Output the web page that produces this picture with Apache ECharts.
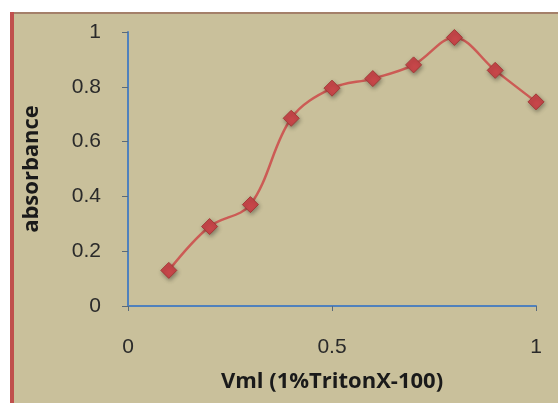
<!DOCTYPE html>
<html>
<head>
<meta charset="utf-8">
<script src="https://cdn.jsdelivr.net/npm/echarts@6/dist/echarts.min.js"></script>
<style>
html,body{margin:0;padding:0;background:#fff;}
#c{width:558px;height:403px;}
</style>
</head>
<body>
<div id="c"></div>
<script>
var xValues = [0.1, 0.2, 0.3, 0.4, 0.5, 0.6, 0.7, 0.8, 0.9, 1.0];
var absorbance = [0.13, 0.29, 0.37, 0.685, 0.795, 0.83, 0.88, 0.98, 0.86, 0.745];
var xTitle = 'Vml (1%TritonX-100)';
var yTitle = 'absorbance';

var chart = echarts.init(document.getElementById('c'));
chart.setOption({
  backgroundColor: '#ffffff',
  animation: false,
  graphic: [
    {type: 'rect', left: 10, top: 12, z: -10, shape: {width: 548, height: 391}, style: {fill: '#c9c09b'}},
    {type: 'rect', left: 10, top: 12, z: -9, shape: {width: 548, height: 2}, style: {fill: '#a4806a'}},
    {type: 'rect', left: 10, top: 12, z: -9, shape: {width: 4, height: 391}, style: {fill: '#c0504d'}}
  ],
  grid: {left: 128, right: 22, top: 32, bottom: 97},
  xAxis: {
    type: 'value', min: 0, max: 1, interval: 0.5,
    name: xTitle, nameLocation: 'middle', nameGap: 65,
    nameTextStyle: {fontFamily: 'Open Sans', fontWeight: 'bold', fontSize: 22, color: '#1a1a1a'},
    axisLine: {lineStyle: {color: '#4f81bd', width: 2}},
    axisTick: {show: true, inside: false, length: 5, lineStyle: {color: '#5a6a7a'}},
    axisLabel: {fontFamily: 'Liberation Sans', fontSize: 21, color: '#2a2a2a', margin: 31},
    splitLine: {show: false}
  },
  yAxis: {
    type: 'value', min: 0, max: 1, interval: 0.2,
    name: yTitle, nameLocation: 'middle', nameGap: 85, nameRotate: 90,
    nameTextStyle: {fontFamily: 'Open Sans', fontWeight: 'bold', fontSize: 22, color: '#1a1a1a'},
    axisLine: {show: true, lineStyle: {color: '#4f81bd', width: 2}},
    axisTick: {show: true, inside: false, length: 6, lineStyle: {color: '#5a6a7a'}},
    axisLabel: {fontFamily: 'Liberation Sans', fontSize: 21, color: '#2a2a2a', margin: 27},
    splitLine: {show: false}
  },
  series: [{
    type: 'line',
    data: xValues.map(function(x, i){ return [x, absorbance[i]]; }),
    smooth: 0.35,
    symbol: 'diamond',
    symbolSize: 16,
    lineStyle: {color: '#cc5b55', width: 2.5},
    itemStyle: {
      color: '#c8474a', borderColor: '#a33a38', borderWidth: 1,
      shadowColor: 'rgba(0,0,0,0.35)', shadowBlur: 4, shadowOffsetX: 1, shadowOffsetY: 2
    }
  }]
});
</script>
</body>
</html>
